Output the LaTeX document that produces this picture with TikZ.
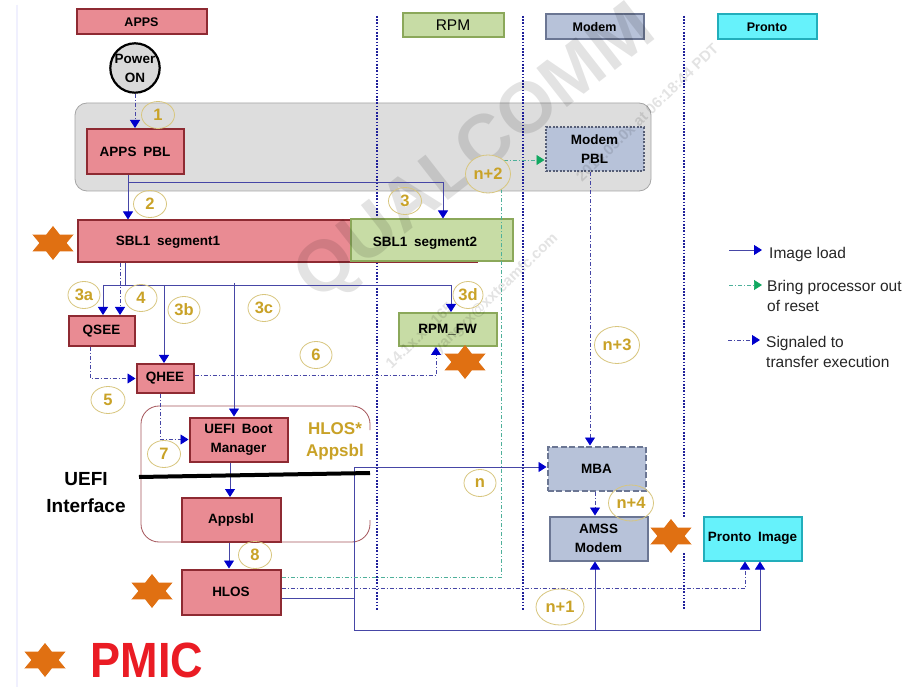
\documentclass[tikz,border=0pt]{standalone}
\usepackage{fontspec}
\setmainfont{Liberation Sans}
\usetikzlibrary{calc,arrows.meta,shapes.geometric}
\definecolor{appsfill}{HTML}{E98B93}
\definecolor{appsline}{HTML}{8E2A32}
\definecolor{rpmfill}{HTML}{C7DCA5}
\definecolor{rpmline}{HTML}{8BA85A}
\definecolor{modemfill}{HTML}{B7C2D9}
\definecolor{modemline}{HTML}{6B7693}
\definecolor{prontofill}{HTML}{66F2FB}
\definecolor{prontoline}{HTML}{22AEBB}
\definecolor{panelgrey}{HTML}{DDDDDD}
\definecolor{laneblue}{HTML}{20209A}
\definecolor{loadline}{HTML}{4646A6}
\definecolor{tipblue}{HTML}{0000CC}
\definecolor{tipgreen}{HTML}{10A860}
\definecolor{resetline}{HTML}{4FB09A}
\definecolor{gold}{HTML}{C9A227}
\definecolor{goldring}{HTML}{D8C67E}
\definecolor{starorange}{HTML}{E07012}
\definecolor{pmicred}{HTML}{EA1C24}
\tikzset{
  box/.style={rectangle, line width=2pt, font=\fontsize{13.5}{19}\selectfont\bfseries, align=center, inner sep=0pt},
  appsbox/.style={box, fill=appsfill, draw=appsline},
  rpmbox/.style={box, fill=rpmfill, draw=rpmline},
  modembox/.style={box, fill=modemfill, draw=modemline},
  prontobox/.style={box, fill=prontofill, draw=prontoline},
  boxtext/.style={font=\fontsize{13.5}{19}\selectfont\bfseries, inner sep=0pt},
  lane/.style={draw=laneblue, line width=1.8pt, dash pattern=on 1.6pt off 1.6pt},
  load/.style={draw=loadline, line width=0.9pt, -{Triangle[length=8pt,width=10pt,color=tipblue]}},
  loadbare/.style={draw=loadline, line width=0.9pt},
  signal/.style={draw=loadline, line width=0.9pt, dash pattern=on 4pt off 2pt on 1pt off 2pt, -{Triangle[length=8pt,width=10pt,color=tipblue]}},
  bringup/.style={draw=resetline, line width=0.7pt, dash pattern=on 4pt off 2pt on 1pt off 2pt, -{Triangle[length=8pt,width=10pt,color=tipgreen]}},
  stepnum/.style={ellipse, draw=goldring, line width=0.8pt, inner sep=0pt, text=gold, font=\fontsize{16.5}{18}\selectfont\bfseries},
  pmicstar/.style={star, star points=6, star point ratio=1.75, fill=starorange, inner sep=0pt, minimum size=34pt, transform shape, xscale=1.4},
  legendtext/.style={font=\fontsize{15.5}{20}\selectfont, align=left, anchor=west, inner sep=0pt, text=black!85},
  wmark/.style={text=black, opacity=0.11, inner sep=0pt},
  wmarksmall/.style={wmark, rotate=44, font=\fontsize{15}{17}\selectfont\bfseries},
}
\begin{document}
\begin{tikzpicture}[x=1pt,y=-1pt]
  \useasboundingbox (0,0) rectangle (914,687);
  \fill[white] (0,0) rectangle (914,687);
  \draw[black!5!blue!6, line width=1.5pt] (17,5) -- (17,687);

  % grey boot rom panel
  \draw[fill=panelgrey, draw=black!35, line width=0.8pt, rounded corners=12pt] (75,103) rectangle (651,191);

  % processor lanes
  \draw[lane] (377,16) -- (377,610);
  \draw[lane, line width=2.6pt] (523,16) -- (523,610);
  \draw[lane] (684,16) -- (684,518);
  \draw[lane] (684,553) -- (684,610);

  % uefi frame
  \draw[draw=appsline!80, line width=0.8pt, rounded corners=18pt] (370,430) |- (141,406) |- (370,542) -- (370,520);

  % column heads
  \node[appsbox, minimum width=130pt, minimum height=25pt, font=\fontsize{12.5}{18}\selectfont\bfseries] (apps) at (141.5,22) {APPS};
  \node[rpmbox, minimum width=101pt, minimum height=24pt, font=\fontsize{15.5}{18}\selectfont] (rpm) at (453,25.5) {RPM};
  \node[modembox, minimum width=98pt, minimum height=25pt, font=\fontsize{12.5}{18}\selectfont\bfseries] (modem) at (594.5,27) {Modem};
  \node[prontobox, minimum width=99pt, minimum height=25pt, font=\fontsize{12.5}{18}\selectfont\bfseries] (pronto) at (767,27) {Pronto};

  \node[circle, draw=black, fill=black!15, line width=2.2pt, minimum size=49pt, inner sep=0pt, align=center, font=\fontsize{13.5}{19}\selectfont\bfseries] (poweron) at (135,68) {Power\\ON};

  % boxes
  \node[appsbox, minimum width=97pt, minimum height=45pt] (appspbl) at (135,151.5) {APPS\hspace{3pt} PBL};
  \node[appsbox, minimum width=399pt, minimum height=42pt] (sblone) at (277.5,241.5) {};
  \node[rpmbox, minimum width=162pt, minimum height=42pt] (sbltwo) at (431.5,240.5) {};
  \node[boxtext] (sblonetxt) at (168,242) {SBL1\hspace{3pt} segment1};
  \node[boxtext] (sbltwotxt) at (425,243) {SBL1\hspace{3pt} segment2};
  \node[appsbox, minimum width=66pt, minimum height=30pt] (qsee) at (101.5,331) {QSEE};
  \node[appsbox, minimum width=57pt, minimum height=29pt] (qhee) at (165,378.5) {QHEE};
  \node[rpmbox, minimum width=98pt, minimum height=33pt] (rpmfw) at (447.5,329.5) {RPM\_FW};
  \node[appsbox, minimum width=98pt, minimum height=44pt] (uefiboot) at (238.5,439.5) {UEFI\hspace{3pt} Boot\\Manager};
  \node[appsbox, minimum width=99pt, minimum height=44pt] (appsbl) at (231,520) {Appsbl};
  \node[appsbox, minimum width=99pt, minimum height=45pt] (hlos) at (231,592) {HLOS};
  \node[modembox, minimum width=98pt, minimum height=44pt, draw=modemline!80!black, dash pattern=on 2pt off 1.5pt] (modempbl) at (594.5,149.5) {Modem\\PBL};
  \node[modembox, minimum width=98pt, minimum height=44pt, dash pattern=on 6pt off 2.5pt] (mba) at (596.5,468.5) {MBA};
  \node[modembox, minimum width=98pt, minimum height=44pt] (amss) at (598.5,538.5) {AMSS\\Modem};
  \node[prontobox, minimum width=98pt, minimum height=44pt] (prontoimg) at (752.5,538.5) {Pronto\hspace{3pt} Image};

  % watermark
  \node[wmark, rotate=38, font=\fontsize{72}{76}\selectfont\bfseries] (qcmark) at (477,155) {QUALCOMM};
  \node[wmarksmall, anchor=west] (ipmark) at (388,366) {14.1x.xx.165};
  \node[wmarksmall, anchor=east] (datemark) at (716,46) {2014.05.0x at 06:18:44 PDT};
  \node[wmarksmall, anchor=east] (mailmark) at (556,236) {yangxx@xxteamfc.com};

  % image load
  \coordinate (pblbus) at (128,182);
  \coordinate (sblbus) at (125,285);
  \coordinate (busqsee) at (103,285);
  \coordinate (busqhee) at (164,285);
  \coordinate (busuefi) at (234,283);
  \coordinate (busrpm) at (451,285);
  \draw[load] (appspbl.south -| pblbus) -- (pblbus |- sblone.north);
  \draw[load] (pblbus) -| (sbltwo.north -| 443,0);
  \draw[loadbare] (sblbus |- sblone.south) -- (sblbus);
  \draw[loadbare] (busqsee) -- (busrpm);
  \draw[load] (busqsee) -- (busqsee |- qsee.north);
  \draw[load] (busqhee) -- (busqhee |- qhee.north);
  \draw[load] (busuefi) -- (busuefi |- uefiboot.north);
  \draw[load] (busrpm) -- (busrpm |- rpmfw.north);
  \draw[load] (uefiboot.south -| 230,0) -- (appsbl.north -| 230,0);
  \draw[load] (appsbl.south -| 229,0) -- (hlos.north -| 229,0);

  \coordinate (nline) at (354,467);
  \coordinate (pbus) at (354,630);
  \draw[load] (nline) -- (mba.west |- nline);
  \draw[loadbare] (nline) -- (pbus);
  \draw[loadbare] ([yshift=-6pt]hlos.east) -- ([yshift=-6pt]hlos.east -| nline);
  \draw[load] (pbus) -| (prontoimg.south -| 760,0);
  \draw[load] (595,630) -- (amss.south -| 595,0);

  % signaled to transfer execution
  \draw[signal] (poweron.south) -- (appspbl.north -| poweron.south);
  \draw[signal] (sblone.south -| 120,0) -- (qsee.north -| 120,0);
  \draw[signal] (qsee.south -| 90,0) |- (qhee.west);
  \draw[signal] ([yshift=3.5pt]qhee.east) -| (rpmfw.south -| 436,0);
  \draw[signal] (qhee.south -| 160,0) |- (uefiboot.west);
  \draw[signal] (modempbl.south -| 590,0) -- (mba.north -| 590,0);
  \draw[signal] (mba.south -| 595,0) -- (amss.north -| 595,0);
  \draw[signal] ([yshift=4pt]hlos.east) -| (prontoimg.south -| 745,0);

  % bring processor out of reset
  \coordinate (greentop) at (501,160);
  \draw[bringup] ([yshift=15pt]hlos.east) -| (greentop) -- (modempbl.west |- greentop);

  % uefi divider
  \coordinate (dividl) at (139,477);
  \coordinate (dividr) at (370,473);
  \draw[black, line width=4pt] (dividl) -- (dividr);

  % pmic stars
  \node[pmicstar] (stara) at (53,243) {};
  \node[pmicstar] (starb) at (465,362) {};
  \node[pmicstar] (starc) at (671,536) {};
  \node[pmicstar] (stard) at (152,591) {};
  \node[pmicstar] (stare) at (45,660) {};

  % step numbers
  \node[stepnum, minimum width=33pt, minimum height=27pt] (stepa) at (158,115) {1};
  \node[stepnum, minimum width=33pt, minimum height=27pt] (stepb) at (150,204) {2};
  \node[stepnum, minimum width=33pt, minimum height=27pt] (stepc) at (405,201) {3};
  \node[stepnum, minimum width=45pt, minimum height=38pt, fill=panelgrey] (stepnb) at (488,174) {n+2};
  \node[stepnum, minimum width=32pt, minimum height=27pt] (stepca) at (84,295) {3a};
  \node[stepnum, minimum width=32pt, minimum height=27pt] (stepd) at (141,298) {4};
  \node[stepnum, minimum width=32pt, minimum height=27pt] (stepcb) at (184,310) {3b};
  \node[stepnum, minimum width=32pt, minimum height=27pt] (stepcc) at (264,308) {3c};
  \node[stepnum, minimum width=30pt, minimum height=27pt] (stepcd) at (468,295) {3d};
  \node[stepnum, minimum width=32pt, minimum height=27pt] (stepf) at (316,355) {6};
  \node[stepnum, minimum width=34pt, minimum height=27pt] (stepe) at (108,400) {5};
  \node[stepnum, minimum width=33pt, minimum height=27pt] (stepg) at (164,454) {7};
  \node[stepnum, minimum width=33pt, minimum height=27pt] (steph) at (255,555) {8};
  \node[stepnum, minimum width=45pt, minimum height=37pt] (stepnc) at (617,345) {n+3};
  \node[stepnum, minimum width=32pt, minimum height=27pt] (stepn) at (480,483) {n};
  \node[stepnum, minimum width=45pt, minimum height=36pt] (stepnd) at (631,503) {n+4};
  \node[stepnum, minimum width=48pt, minimum height=36pt] (stepna) at (560,607) {n+1};

  % free labels
  \node[align=center, inner sep=0pt, font=\fontsize{19}{27}\selectfont\bfseries] (uefilab) at (86,493) {UEFI\\Interface};
  \node[align=center, inner sep=0pt, text=gold, font=\fontsize{17}{22}\selectfont\bfseries] (hloslab) at (335,441) {HLOS*\\Appsbl};
  \node[inner sep=0pt, text=pmicred, transform shape, yscale=1.1, font=\fontsize{45}{50}\selectfont\bfseries] (pmiclab) at (147,660) {PMIC};

  % legend
  \coordinate (lgaa) at (729,250);
  \coordinate (lgab) at (762,250);
  \coordinate (lgba) at (729,285);
  \coordinate (lgbb) at (762,285);
  \coordinate (lgca) at (728,340);
  \coordinate (lgcb) at (760,340);
  \draw[load] (lgaa) -- (lgab);
  \draw[bringup] (lgba) -- (lgbb);
  \draw[signal] (lgca) -- (lgcb);
  \node[legendtext] (lgtxta) at (769,254) {Image load};
  \node[legendtext] (lgtxtb) at (767,296) {Bring processor out\\of reset};
  \node[legendtext] (lgtxtc) at (766,352) {Signaled to\\transfer execution};
\end{tikzpicture}
\end{document}
